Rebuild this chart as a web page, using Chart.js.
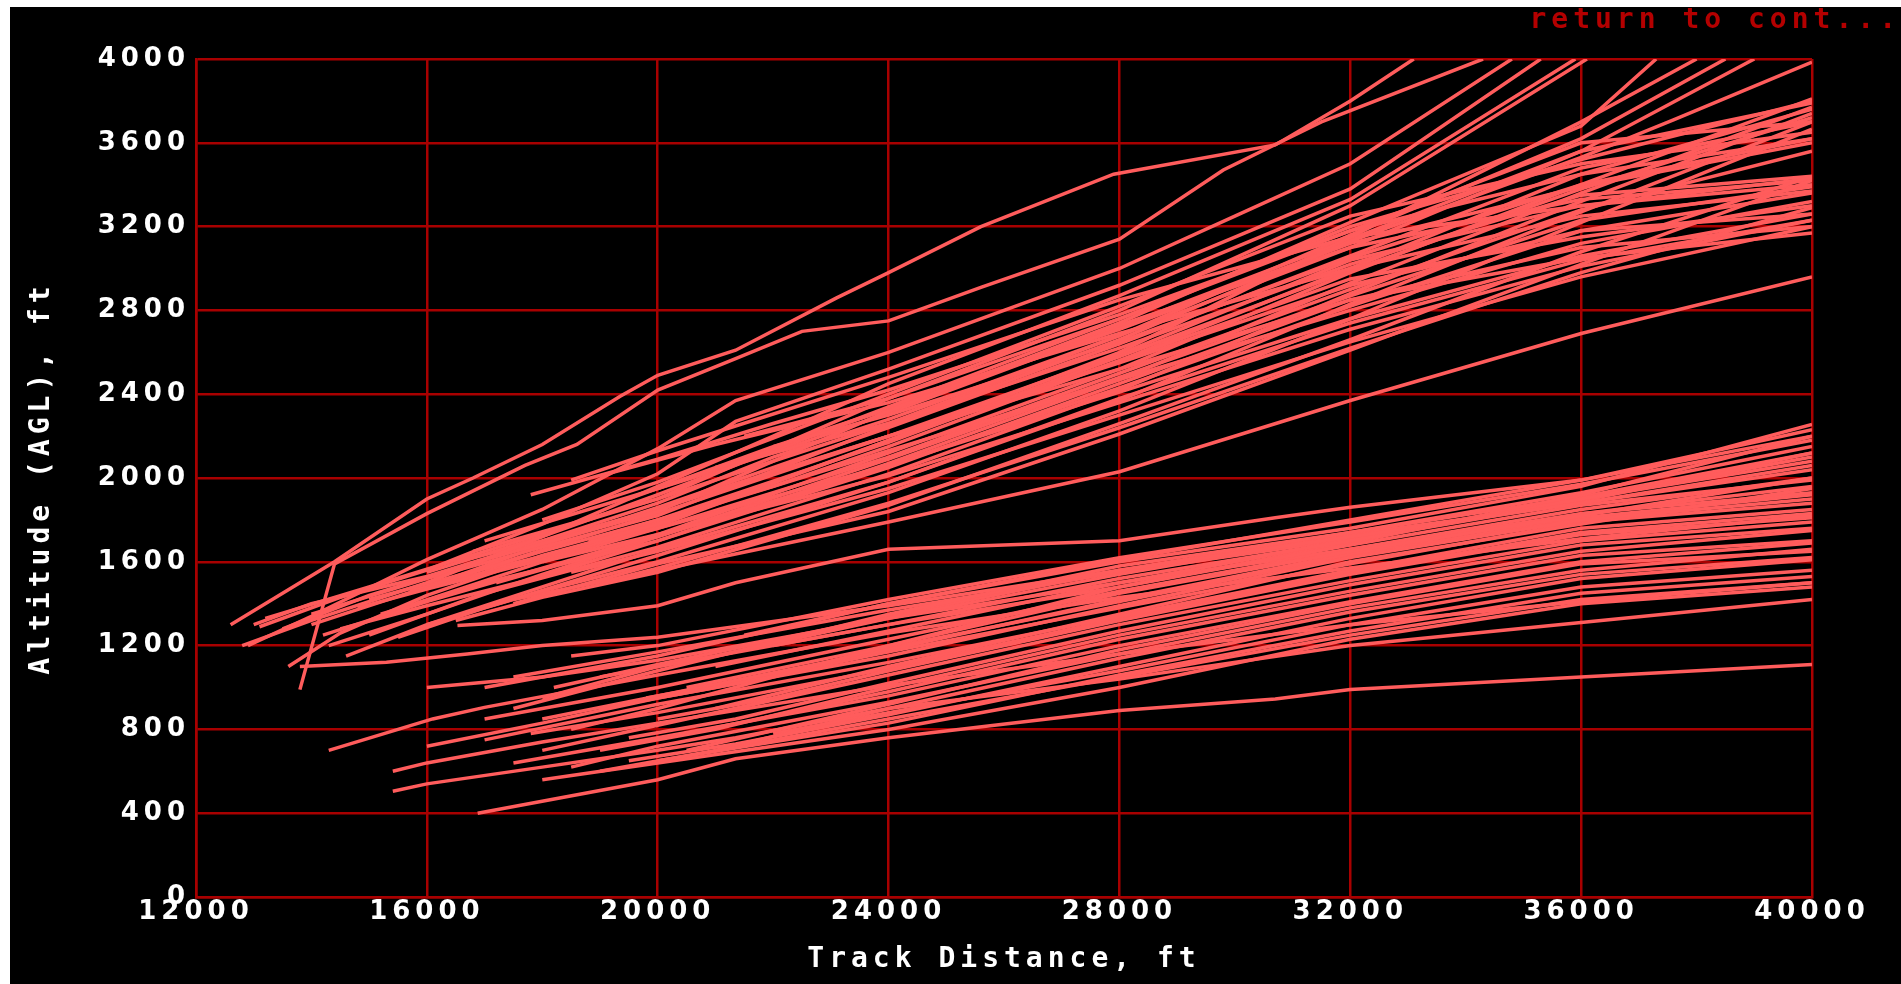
<!DOCTYPE html>
<html>
<head>
<meta charset="utf-8">
<script src="https://cdn.jsdelivr.net/npm/chart.js@4"></script>
<style>
  html, body { margin: 0; padding: 0; background: #fff; overflow: hidden; }
  #wrap { position: absolute; left: 10px; top: 7px; width: 1891px; height: 977px; background: #000; }
  canvas { display: block; }
</style>
</head>
<body>
<div id="wrap"><canvas id="trackChart" width="1891" height="977"></canvas></div>
<script>
// axis ticks
const xTicks = [12000, 16000, 20000, 24000, 28000, 32000, 36000, 40000];
const yTicks = [0, 400, 800, 1200, 1600, 2000, 2400, 2800, 3200, 3600, 4000];

// steeper climb profiles (track distance ft, altitude AGL ft)
const upperTracks = [
    [[12600,1300],[14400,1600],[16000,1900],[16800,2000],[18000,2160],[19350,2390],[20000,2490],[21350,2610],[23100,2860],[24000,2980],[25600,3200],[27900,3450],[30700,3590],[32000,3800],[33100,4000]],
    [[13800,990],[14400,1590],[16000,1830],[17700,2060],[18600,2160],[20000,2420],[21350,2570],[22500,2700],[24000,2750],[25600,2910],[28000,3140],[29800,3470],[31500,3700],[34300,4000]],
    [[12900,1200],[14000,1340],[16000,1610],[18000,1850],[20000,2140],[21350,2370],[24000,2600],[26000,2800],[28000,3000],[30000,3250],[32000,3500],[34800,4000]],
    [[13100,1290],[14500,1430],[16000,1560],[18000,1780],[20000,2020],[21350,2270],[24000,2520],[28000,2920],[32000,3380],[35300,4000]],
    [[12800,1200],[14000,1320],[16000,1500],[18000,1720],[20000,1960],[22000,2200],[24000,2450],[28000,2870],[32000,3330],[35900,4000]],
    [[13200,1330],[15000,1480],[17000,1650],[20000,1900],[24000,2380],[28000,2800],[32000,3300],[36100,4000]],
    [[13500,1280],[15000,1440],[17000,1610],[20000,1840],[24000,2320],[28000,2740],[32000,3220],[36000,3680],[37300,4000]],
    [[14000,1350],[16000,1520],[18000,1670],[20000,1820],[24000,2250],[28000,2660],[32000,3130],[36000,3530],[37600,3710],[40000,3985]],
    [[13600,1100],[14500,1260],[16000,1440],[18000,1630],[20000,1780],[24000,2180],[28000,2600],[32000,3150],[36000,3700],[38000,4000]],
    [[14200,1250],[16000,1410],[18000,1570],[20000,1730],[24000,2120],[28000,2520],[32000,2980],[36000,3400],[40000,3810]],
    [[14500,1280],[16000,1390],[18000,1530],[20000,1700],[24000,2070],[28000,2470],[32000,2930],[36000,3360],[40000,3770]],
    [[15000,1250],[17000,1450],[20000,1670],[24000,2020],[28000,2420],[32000,2880],[36000,3320],[40000,3740]],
    [[15500,1240],[17000,1380],[20000,1630],[24000,1980],[28000,2370],[32000,2830],[36000,3270],[40000,3700]],
    [[16000,1300],[18000,1460],[20000,1600],[24000,1930],[28000,2320],[32000,2760],[36000,3220],[40000,3665]],
    [[17800,1920],[20000,2090],[22000,2260],[24000,2420],[28000,2780],[32000,3180],[36000,3450],[40000,3620]],
    [[16500,1320],[18000,1430],[20000,1550],[24000,1870],[28000,2260],[32000,2660],[36000,3080],[40000,3440]],
    [[17500,1400],[20000,1590],[24000,1840],[28000,2210],[32000,2610],[36000,3020],[40000,3420]],
    [[18500,1990],[20000,2130],[24000,2480],[28000,2850],[32000,3150],[36000,3300],[40000,3400]],
    [[19000,2010],[21000,2160],[24000,2360],[28000,2690],[32000,3000],[36000,3250],[40000,3370]],
    [[16200,1500],[18000,1650],[20000,1800],[22000,1960],[24000,2150],[28000,2560],[32000,2950],[36000,3150],[40000,3300]],
    [[17000,1560],[20000,1760],[24000,2060],[28000,2410],[32000,2760],[36000,3060],[40000,3260]],
    [[18000,1600],[20000,1730],[24000,2010],[28000,2360],[32000,2710],[36000,3010],[40000,3230]],
    [[18500,1550],[20000,1650],[24000,1950],[28000,2300],[32000,2650],[36000,2960],[40000,3200]],
    [[20500,1900],[24000,2200],[28000,2520],[32000,2850],[36000,3050],[40000,3170]],
    [[17500,1420],[20000,1560],[24000,1790],[28000,2030],[32000,2370],[36000,2690],[40000,2960]],
    [[13000,1300],[14000,1400],[16000,1530],[18000,1700],[20000,1880],[22000,2100],[24000,2280],[28000,2680],[32000,3100],[36000,3560],[40000,3790]],
    [[14800,1380],[16000,1470],[18000,1610],[20000,1770],[24000,2180],[28000,2560],[32000,3000],[36000,3450],[40000,3760]],
    [[21000,2050],[24000,2260],[28000,2620],[32000,3020],[36000,3350],[40000,3440]],
    [[22000,2150],[24000,2300],[28000,2650],[32000,3050],[36000,3400],[40000,3620]],
    [[15700,1460],[18000,1620],[20000,1790],[24000,2130],[28000,2470],[32000,2800],[36000,3120],[40000,3320]],
    [[14000,1300],[16000,1480],[18000,1680],[20000,1860],[24000,2240],[28000,2640],[32000,3060],[36000,3480],[40000,3700]],
    [[15000,1420],[17000,1570],[20000,1830],[24000,2200],[28000,2590],[32000,3040],[36000,3300],[40000,3430]],
    [[16000,1550],[18000,1720],[20000,1920],[24000,2340],[28000,2760],[32000,3200],[36000,3520],[40000,3800]],
    [[17000,1700],[20000,1950],[24000,2330],[28000,2710],[32000,3120],[36000,3390],[40000,3600]],
    [[18000,1800],[20000,1980],[24000,2400],[28000,2820],[32000,3250],[36000,3500],[40000,3650]],
    [[19500,1900],[22000,2150],[24000,2330],[28000,2730],[32000,3100],[36000,3330],[40000,3420]],
    [[16500,1600],[18000,1700],[20000,1850],[24000,2200],[28000,2550],[32000,2920],[36000,3180],[40000,3260]],
    [[15200,1350],[17000,1500],[20000,1700],[24000,2050],[28000,2450],[32000,2850],[36000,3100],[40000,3200]],
    [[14600,1150],[16000,1300],[18000,1480],[20000,1660],[24000,1980],[28000,2380],[32000,2740],[36000,3040],[40000,3230]],
    [[19000,1500],[20000,1570],[24000,1880],[28000,2240],[32000,2620],[36000,2980],[40000,3290]],
    [[15800,1400],[18000,1600],[20000,1760],[24000,2100],[28000,2500],[32000,2900],[36000,3280],[40000,3560]],
    [[17200,1500],[20000,1720],[24000,2090],[28000,2480],[32000,2870],[36000,3230],[40000,3390]],
    [[18800,1700],[20000,1800],[24000,2170],[28000,2580],[32000,2990],[36000,3380],[40000,3720]],
    [[20000,1950],[22000,2120],[24000,2310],[28000,2720],[32000,3140],[36000,3560],[39000,4000]],
    [[21500,2200],[24000,2380],[28000,2760],[32000,3180],[36000,3600],[40000,3700]],
    [[14300,1200],[16000,1350],[18000,1540],[20000,1720],[24000,2060],[28000,2430],[32000,2820],[36000,3180],[40000,3360]],
    [[16800,1650],[20000,1900],[24000,2260],[28000,2680],[32000,3160],[36000,3620],[38500,4000]]
];

// shallower climb profiles
const lowerTracks = [
    [[16880,400],[20000,560],[21350,660],[24000,760],[28000,890],[30700,945],[32000,990],[36000,1050],[40000,1110]],
    [[15410,505],[16000,540],[18000,620],[20000,700],[21350,760],[24000,900],[28000,1040],[32000,1200],[36000,1310],[40000,1420]],
    [[15410,600],[16000,640],[18000,740],[20000,830],[24000,1010],[28000,1160],[32000,1300],[36000,1410],[40000,1500]],
    [[14300,700],[16100,850],[17000,905],[20000,1060],[24000,1260],[28000,1430],[32000,1570],[36000,1710],[40000,1820]],
    [[13800,1100],[15300,1120],[16700,1160],[18000,1200],[20000,1240],[24000,1390],[28000,1560],[32000,1720],[36000,1880],[40000,2040]],
    [[16530,1296],[18000,1320],[20000,1390],[21350,1500],[24000,1660],[28000,1700],[30700,1810],[32000,1860],[36000,1990],[40000,2200]],
    [[17000,1000],[20000,1150],[24000,1400],[28000,1600],[32000,1760],[36000,1960],[40000,2256]],
    [[17500,900],[20000,1080],[24000,1350],[28000,1580],[32000,1740],[36000,1930],[40000,2150]],
    [[18000,950],[20000,1100],[24000,1300],[28000,1520],[32000,1700],[36000,1900],[40000,2100]],
    [[18500,800],[20000,900],[24000,1200],[28000,1480],[32000,1680],[36000,1870],[40000,1990]],
    [[16000,720],[18000,830],[20000,950],[24000,1150],[28000,1390],[32000,1620],[36000,1800],[40000,1900]],
    [[17000,750],[20000,920],[24000,1120],[28000,1340],[32000,1560],[36000,1760],[40000,1850]],
    [[18000,700],[20000,820],[24000,1060],[28000,1300],[32000,1510],[36000,1700],[40000,1790]],
    [[19000,700],[21000,800],[24000,1000],[28000,1250],[32000,1460],[36000,1650],[40000,1750]],
    [[17500,640],[20000,760],[24000,960],[28000,1200],[32000,1410],[36000,1600],[40000,1690]],
    [[18500,620],[20000,720],[24000,930],[28000,1160],[32000,1380],[36000,1560],[40000,1660]],
    [[19500,650],[21350,730],[24000,870],[28000,1100],[32000,1330],[36000,1520],[40000,1610]],
    [[20000,650],[24000,830],[28000,1060],[32000,1270],[36000,1450],[40000,1530]],
    [[18000,560],[20000,640],[24000,800],[28000,1000],[32000,1230],[36000,1400],[40000,1480]],
    [[20500,1000],[24000,1200],[28000,1450],[32000,1650],[36000,1820],[40000,2000]],
    [[19000,1050],[21000,1150],[24000,1330],[28000,1540],[32000,1730],[36000,1880],[40000,2060]],
    [[21000,900],[24000,1100],[28000,1350],[32000,1600],[36000,1780],[40000,1950]],
    [[22000,1200],[24000,1300],[28000,1480],[32000,1690],[36000,1920],[40000,2200]],
    [[16000,1000],[18000,1050],[20000,1130],[24000,1330],[28000,1500],[32000,1660],[36000,1830],[40000,1960]],
    [[17000,850],[20000,1000],[24000,1230],[28000,1460],[32000,1660],[36000,1850],[40000,2000]],
    [[18000,850],[20000,960],[24000,1180],[28000,1420],[32000,1640],[36000,1830],[40000,1930]],
    [[19000,900],[21000,1000],[24000,1170],[28000,1380],[32000,1590],[36000,1790],[40000,1880]],
    [[20000,850],[22000,950],[24000,1080],[28000,1320],[32000,1540],[36000,1730],[40000,1810]],
    [[19500,760],[21350,850],[24000,1020],[28000,1270],[32000,1490],[36000,1680],[40000,1760]],
    [[20500,780],[24000,980],[28000,1230],[32000,1440],[36000,1630],[40000,1700]],
    [[21000,700],[24000,900],[28000,1140],[32000,1360],[36000,1540],[40000,1620]],
    [[22000,780],[24000,880],[28000,1080],[32000,1300],[36000,1480],[40000,1560]],
    [[18500,1150],[20000,1200],[24000,1420],[28000,1620],[32000,1790],[36000,1970],[40000,2180]],
    [[21500,1250],[24000,1400],[28000,1610],[32000,1800],[36000,1990],[40000,2230]],
    [[17500,1050],[20000,1170],[24000,1370],[28000,1550],[32000,1710],[36000,1900],[40000,2080]],
    [[19000,600],[21000,700],[24000,850],[28000,1050],[32000,1250],[36000,1420],[40000,1500]],
    [[18200,1000],[20000,1110],[24000,1340],[28000,1560],[32000,1740],[36000,1910],[40000,2120]],
    [[19800,950],[22000,1060],[24000,1190],[28000,1410],[32000,1630],[36000,1810],[40000,1920]],
    [[20500,700],[24000,920],[28000,1180],[32000,1400],[36000,1590],[40000,1650]],
    [[17800,780],[20000,880],[24000,1090],[28000,1330],[32000,1550],[36000,1740],[40000,1830]],
    [[21000,1100],[24000,1270],[28000,1500],[32000,1700],[36000,1890],[40000,2120]]
];

const lineColor = '#ff5c5c';
const gridColor = '#a80000';
const tickFont = { family: '"DejaVu Sans", sans-serif', size: 26, weight: 'bold', lineHeight: 1.2 };
const titleFont = { family: '"DejaVu Sans Mono", monospace', size: 28, weight: 'bold', lineHeight: 1.2 };

const datasets = upperTracks.concat(lowerTracks).map(track => ({
    data: track.map(p => ({ x: p[0], y: p[1] })),
    borderColor: lineColor,
    borderWidth: 3.5,
    pointRadius: 0,
    tension: 0,
    fill: false
}));

// wide character spacing like the original terminal font
const spacing = {
    id: 'spacing',
    afterInit(c) { c.ctx.letterSpacing = '5px'; },
    beforeLayout(c) { c.ctx.letterSpacing = '5px'; },
    beforeDraw(c) { c.ctx.letterSpacing = '5px'; }
};

new Chart(document.getElementById('trackChart'), {
    type: 'line',
    data: { datasets: datasets },
    plugins: [spacing],
    options: {
        responsive: false,
        animation: false,
        events: [],
        layout: { padding: 0 },
        plugins: {
            legend: { display: false },
            tooltip: { enabled: false },
            title: {
                display: true,
                text: 'return to cont...',
                align: 'end',
                color: '#b40000',
                font: { family: titleFont.family, size: 28, weight: 'bold', lineHeight: 1 },
                padding: { top: 0, bottom: 24 }
            }
        },
        scales: {
            x: {
                type: 'linear',
                min: 12000,
                max: 40000,
                afterBuildTicks: s => { s.ticks = xTicks.map(v => ({ value: v })); },
                afterFit: s => { s.height = 87; },
                ticks: { color: '#fff', font: tickFont, padding: 0, maxRotation: 0, autoSkip: false, callback: v => String(v) },
                grid: { color: gridColor, lineWidth: 2.5, drawTicks: false },
                border: { color: gridColor, width: 2.5 },
                title: { display: true, text: 'Track Distance, ft', color: '#fff', font: titleFont, padding: { top: 0, bottom: 7 } }
            },
            y: {
                type: 'linear',
                min: 0,
                max: 4000,
                afterBuildTicks: s => { s.ticks = yTicks.map(v => ({ value: v })); },
                afterFit: s => { s.width = 186; },
                ticks: { color: '#fff', font: tickFont, padding: 6, autoSkip: false, callback: v => String(v) },
                grid: { color: gridColor, lineWidth: 2.5, drawTicks: false },
                border: { color: gridColor, width: 2.5 },
                title: { display: true, text: 'Altitude (AGL), ft', color: '#fff', font: titleFont, padding: { top: 15, bottom: 0 } }
            },
            yRight: {
                type: 'linear',
                position: 'right',
                display: true,
                afterFit: s => { s.width = 89; },
                ticks: { display: false },
                grid: { display: false, drawTicks: false },
                border: { display: false }
            }
        }
    }
});
</script>
</body>
</html>
